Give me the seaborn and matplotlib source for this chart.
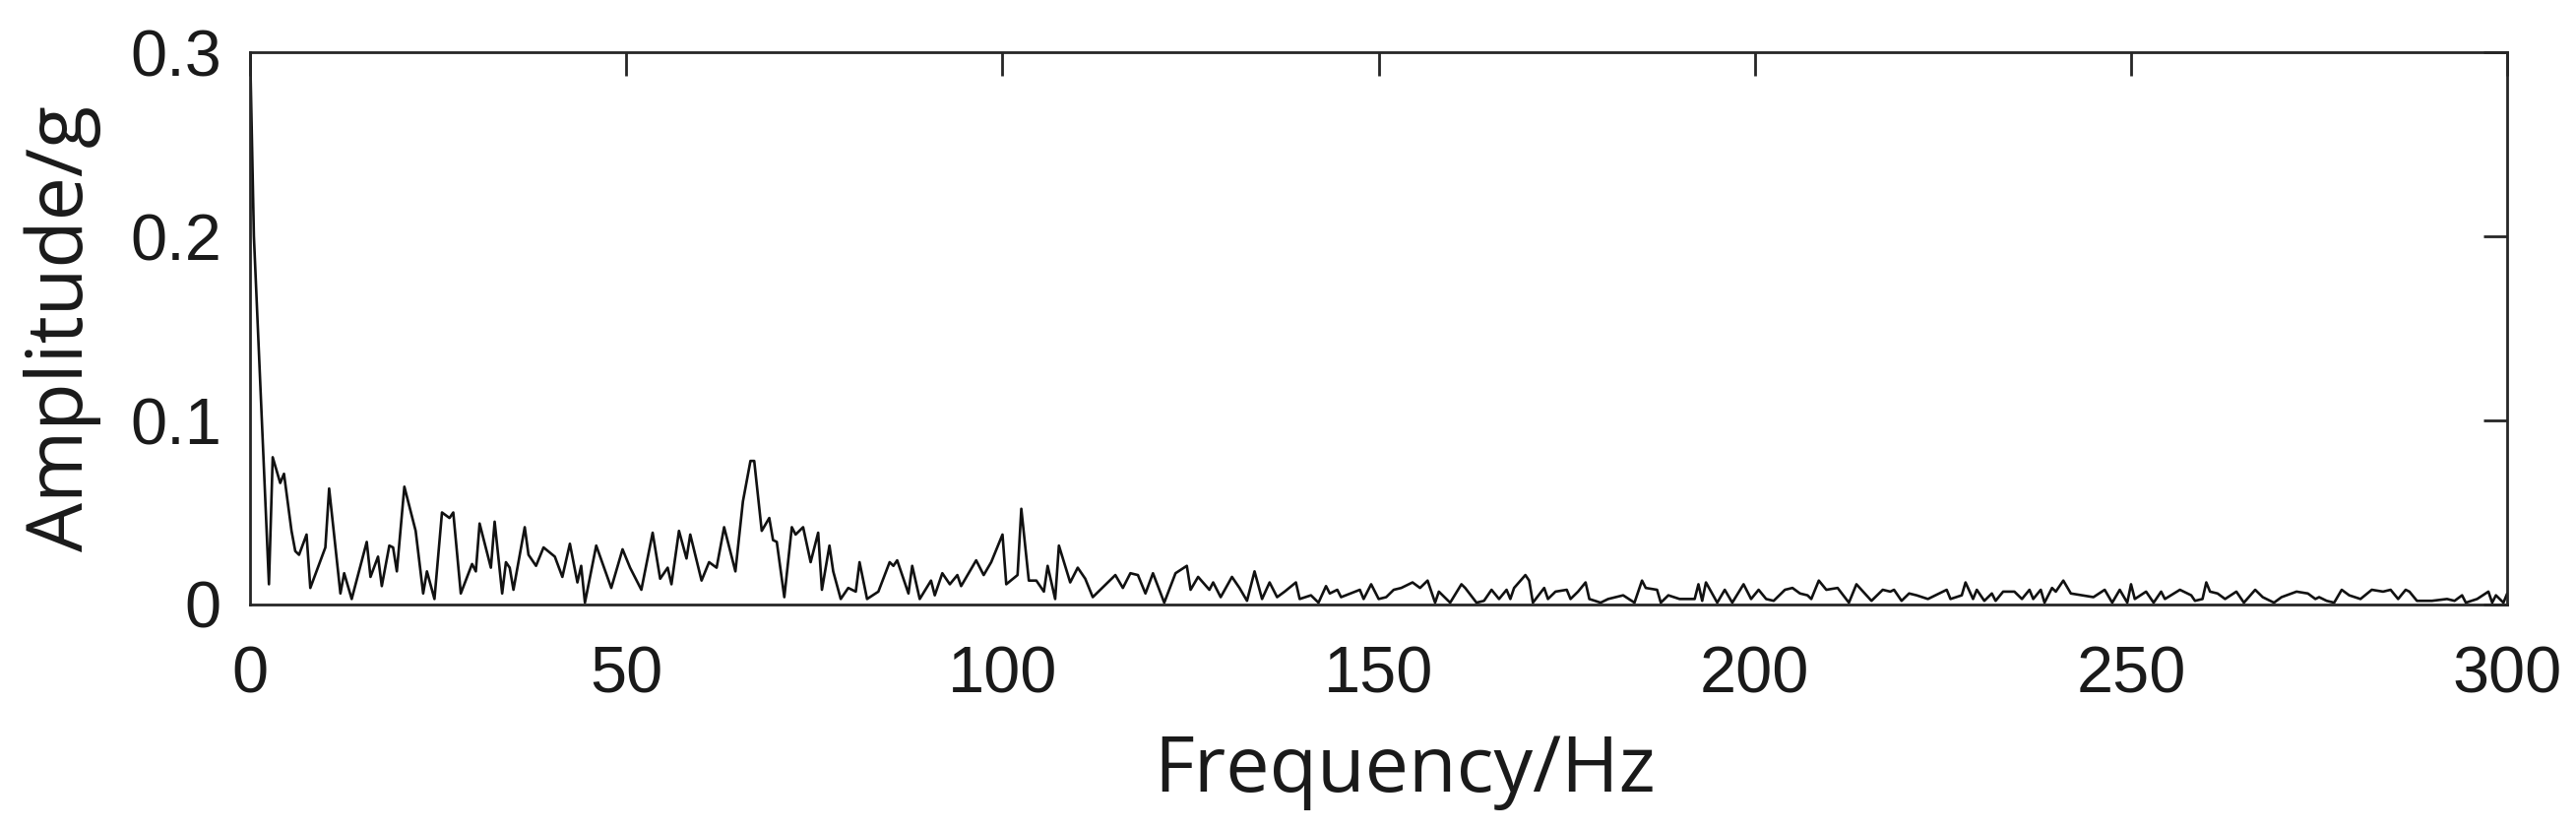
import matplotlib
matplotlib.use('Agg')
import matplotlib.pyplot as plt
import seaborn as sns

# spectre d'amplitude, sommets (Hz, g)
freq_hz = [
    0.0, 0.5, 2.5, 3.0, 4.0, 4.5, 5.5, 6.0, 6.5, 7.5, 8.0, 9.0, 10.0, 10.5, 12.0, 12.5,
    13.5, 15.5, 16.0, 17.0, 17.5, 18.5, 19.0, 19.5, 20.5, 22.0, 23.0, 23.5, 24.5, 25.5,
    26.5, 27.0, 28.0, 29.5, 30.0, 30.5, 32.0, 32.5, 33.5, 34.0, 34.5, 35.0, 36.5, 37.0,
    38.0, 39.0, 40.5, 41.5, 42.5, 43.5, 44.0, 44.5, 46.0, 48.0, 49.5, 50.5, 52.0, 53.5,
    54.5, 55.5, 56.0, 57.0, 58.0, 58.5, 60.0, 61.0, 62.0, 63.0, 64.5, 65.5, 66.5, 67.0,
    68.0, 69.0, 69.5, 70.0, 71.0, 72.0, 72.5, 73.5, 74.5, 75.5, 76.0, 77.0, 77.5, 78.5,
    79.5, 80.5, 81.0, 82.0, 83.5, 85.0, 85.5, 86.0, 87.5, 88.0, 89.0, 90.5, 91.0, 92.0,
    93.0, 94.0, 94.5, 96.5, 97.5, 98.5, 100.0, 100.5, 102.0, 102.5, 103.5, 104.5, 105.5,
    106.0, 107.0, 107.5, 109.0, 110.0, 111.0, 112.0, 113.5, 115.0, 116.0, 117.0, 118.0,
    119.0, 120.0, 121.5, 123.0, 124.5, 125.0, 126.0, 127.5, 128.0, 129.0, 130.5, 131.5,
    132.5, 133.5, 134.5, 135.5, 136.5, 137.5, 139.0, 139.5, 141.0, 142.0, 143.0, 143.5,
    144.5, 145.0, 147.5, 148.0, 149.0, 150.0, 151.0, 152.0, 153.0, 154.5, 155.5, 156.5,
    157.5, 158.0, 159.5, 161.0, 161.5, 163.0, 164.0, 165.0, 166.0, 167.0, 167.5, 168.0,
    169.5, 170.0, 170.5, 172.0, 172.5, 173.5, 175.0, 175.5, 176.5, 177.5, 178.0, 179.5,
    180.5, 182.5, 184.0, 185.0, 185.5, 187.0, 187.5, 188.5, 190.0, 192.0, 192.5, 193.0,
    193.5, 195.0, 196.0, 197.0, 198.5, 199.5, 200.5, 201.5, 202.5, 204.0, 205.0, 206.0,
    207.0, 207.5, 208.5, 209.5, 211.0, 212.5, 213.5, 215.5, 217.0, 218.0, 218.5, 219.5,
    220.5, 221.5, 223.0, 224.5, 225.5, 226.0, 227.5, 228.0, 229.0, 229.5, 230.5, 231.5,
    232.0, 233.0, 234.5, 235.5, 236.5, 237.0, 238.0, 238.5, 239.5, 240.0, 241.0, 242.0,
    243.5, 245.0, 246.5, 247.5, 248.5, 249.5, 250.0, 250.5, 252.0, 253.0, 254.0, 254.5,
    256.5, 258.0, 258.5, 259.5, 260.0, 260.5, 261.5, 262.5, 264.0, 265.0, 266.5, 267.5,
    269.0, 270.0, 272.0, 273.5, 274.5, 275.0, 276.0, 277.0, 278.0, 279.0, 280.5, 282.0,
    283.5, 284.5, 285.5, 286.5, 287.0, 288.0, 290.0, 292.0, 293.0, 294.0, 294.5, 296.0,
    297.5, 298.0, 298.5, 299.5, 300.0,
]
amp_g = [
    0.300, 0.200, 0.011, 0.080, 0.066, 0.071, 0.040, 0.029, 0.027, 0.038, 0.009, 0.020, 0.031, 0.063, 0.006, 0.017,
    0.003, 0.034, 0.015, 0.026, 0.010, 0.032, 0.031, 0.018, 0.064, 0.040, 0.006, 0.018, 0.003, 0.050,
    0.047, 0.050, 0.006, 0.022, 0.018, 0.044, 0.020, 0.045, 0.006, 0.023, 0.020, 0.008, 0.042, 0.027,
    0.021, 0.031, 0.026, 0.015, 0.033, 0.012, 0.021, 0.001, 0.032, 0.009, 0.030, 0.020, 0.008, 0.039,
    0.014, 0.020, 0.011, 0.040, 0.025, 0.038, 0.013, 0.023, 0.020, 0.042, 0.018, 0.056, 0.078, 0.078,
    0.040, 0.047, 0.035, 0.034, 0.004, 0.042, 0.038, 0.042, 0.023, 0.039, 0.008, 0.032, 0.018, 0.003,
    0.009, 0.007, 0.023, 0.003, 0.007, 0.023, 0.021, 0.024, 0.006, 0.021, 0.003, 0.013, 0.005, 0.017,
    0.011, 0.016, 0.010, 0.024, 0.016, 0.023, 0.038, 0.011, 0.016, 0.052, 0.013, 0.013, 0.007,
    0.021, 0.003, 0.032, 0.012, 0.020, 0.014, 0.004, 0.010, 0.016, 0.009, 0.017, 0.016,
    0.006, 0.017, 0.001, 0.017, 0.021, 0.008, 0.015, 0.008, 0.012, 0.004, 0.015, 0.009,
    0.002, 0.018, 0.003, 0.012, 0.004, 0.007, 0.012, 0.003, 0.005, 0.001, 0.010, 0.006,
    0.008, 0.004, 0.008, 0.003, 0.011, 0.003, 0.004, 0.008, 0.009, 0.012, 0.009, 0.013,
    0.001, 0.007, 0.001, 0.011, 0.009, 0.001, 0.002, 0.008, 0.003, 0.008, 0.003, 0.009,
    0.016, 0.013, 0.001, 0.009, 0.003, 0.007, 0.008, 0.003, 0.007, 0.012, 0.003, 0.001,
    0.003, 0.005, 0.001, 0.013, 0.009, 0.008, 0.001, 0.005, 0.003, 0.003, 0.011, 0.002,
    0.012, 0.001, 0.008, 0.001, 0.011, 0.003, 0.008, 0.003, 0.002, 0.008, 0.009, 0.006,
    0.005, 0.003, 0.013, 0.008, 0.009, 0.001, 0.011, 0.002, 0.008, 0.007, 0.008, 0.002,
    0.006, 0.005, 0.003, 0.006, 0.008, 0.003, 0.005, 0.012, 0.003, 0.008, 0.002, 0.006,
    0.002, 0.007, 0.007, 0.003, 0.008, 0.003, 0.008, 0.001, 0.009, 0.007, 0.013, 0.006,
    0.005, 0.004, 0.008, 0.001, 0.008, 0.001, 0.011, 0.003, 0.007, 0.001, 0.007, 0.003,
    0.008, 0.005, 0.002, 0.003, 0.012, 0.007, 0.006, 0.003, 0.007, 0.001, 0.008, 0.004,
    0.001, 0.004, 0.007, 0.006, 0.003, 0.004, 0.002, 0.001, 0.008, 0.005, 0.003, 0.008,
    0.007, 0.008, 0.003, 0.008, 0.007, 0.002, 0.002, 0.003, 0.002, 0.005, 0.001, 0.003,
    0.007, 0.001, 0.005, 0.001, 0.006,
]

x_ticks = [0, 50, 100, 150, 200, 250, 300]
y_ticks = [0, 0.1, 0.2, 0.3]
y_tick_labels = ['0', '0.1', '0.2', '0.3']

sns.set_theme(style='white')
plt.rcParams['font.family'] = ['Liberation Sans', 'DejaVu Sans']

fig = plt.figure(figsize=(26.17, 8.42), dpi=100)
ax = fig.add_axes([0.0971, 0.2708, 0.8762, 0.6662])

sns.lineplot(x=freq_hz, y=amp_g, estimator=None, sort=False,
             color='#111111', linewidth=1.9, ax=ax)

ax.set_xlim(0, 300)
ax.set_ylim(0, 0.3)
ax.set_xticks(x_ticks)
ax.set_xticklabels([str(t) for t in x_ticks])
ax.set_yticks(y_ticks)
ax.set_yticklabels(y_tick_labels)

# cadre façon MATLAB : ticks vers l'intérieur sur les 4 côtés
for sp in ax.spines.values():
    sp.set_visible(True)
    sp.set_color('#262626')
    sp.set_linewidth(2)
ax.tick_params(axis='both', direction='in', length=17, width=2, color='#262626',
               top=True, right=True, labelsize=48, labelcolor='#1a1a1a')
ax.tick_params(axis='x', pad=30)
ax.tick_params(axis='y', pad=21)

ax.set_xlabel('Frequency/Hz', fontsize=57, family=['Open Sans', 'DejaVu Sans'], color='#1a1a1a')
ax.set_ylabel('Amplitude/g', fontsize=57, family=['Open Sans', 'DejaVu Sans'], color='#1a1a1a')
ax.xaxis.set_label_coords(0.5116, -0.232)
ax.yaxis.set_label_coords(-0.066, 0.5)
ax.grid(False)

fig.savefig('out.png', dpi=100)
